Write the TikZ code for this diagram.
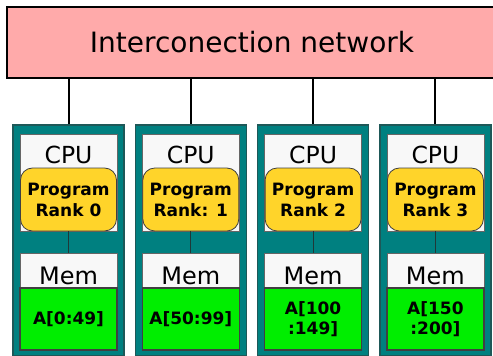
\documentclass[tikz,border=0pt]{standalone}
\usepackage{fontspec}
\setmainfont{DejaVu Sans}
\definecolor{netpink}{HTML}{FFAAAA}
\definecolor{nodeteal}{HTML}{008080}
\definecolor{tealedge}{HTML}{1E5858}
\definecolor{boxwhite}{HTML}{F8F8F8}
\definecolor{rankgold}{HTML}{FFD42A}
\definecolor{memgreen}{HTML}{00EE00}
\definecolor{wiredark}{HTML}{203838}
\tikzset{
  netbox/.style={draw=black,line width=2.2pt,fill=netpink,minimum width=490,minimum height=71,inner sep=0pt,font=\fontsize{28}{32}\selectfont},
  tealbox/.style={draw=tealedge,line width=1.5pt,fill=nodeteal,minimum width=111,minimum height=231,inner sep=0pt},
  whitebox/.style={draw=black!60,line width=0.8pt,fill=boxwhite,minimum width=97,inner sep=0pt},
  progbox/.style={draw=black!75,line width=0.8pt,fill=rankgold,rounded corners=12pt,minimum width=96,minimum height=63,inner sep=0pt,align=center,font=\bfseries\fontsize{17}{21}\selectfont},
  arraybox/.style={draw=black!75,line width=1.2pt,fill=memgreen,minimum width=97,minimum height=62,inner sep=0pt,align=center,font=\bfseries\fontsize{17}{20}\selectfont},
  cpulabel/.style={anchor=base,yshift=-30pt,inner sep=0pt,font=\fontsize{23.5}{28}\selectfont},
  memlabel/.style={anchor=base,yshift=3.5pt,inner sep=0pt,font=\fontsize{24}{28}\selectfont},
  netwire/.style={line width=2pt,black},
  linkwire/.style={line width=1.1pt,wiredark}
}
\begin{document}
\begin{tikzpicture}[x=1pt,y=-1pt]
    \useasboundingbox (0,0) rectangle (493,356);
    %% Network
    \node[netbox] (N) at (252,42.5) {Interconection network\hspace{3pt}};
    %% Processors with their memory
    \foreach \i/\rk/\arr in {0/Rank 0/{A[0:49]},1/Rank: 1/{A[50:99]},2/Rank 2/{A[100\\:149]},3/Rank 3/{A[150\\:200]}}{
        \pgfmathsetmacro\cx{68.5+122.3*\i}
        \node[tealbox] (T\i) at (\cx,240.5) {};
        \node[whitebox,minimum height=97,label={[cpulabel]north:CPU}] (C\i) at (\cx,182.5) {};
        \node[progbox] (P\i) at (\cx,199.5) {Program\\\rk};
        \node[whitebox,minimum height=35,label={[memlabel]south:Mem}] (M\i) at (\cx,270.5) {};
        \node[arraybox] (A\i) at (\cx,319) {\arr};
        %% Wires
        \draw[netwire] (N.south -| T\i.north) -- (T\i.north);
        \draw[linkwire] (P\i.south) -- (M\i.north);
    }
\end{tikzpicture}
\end{document}
